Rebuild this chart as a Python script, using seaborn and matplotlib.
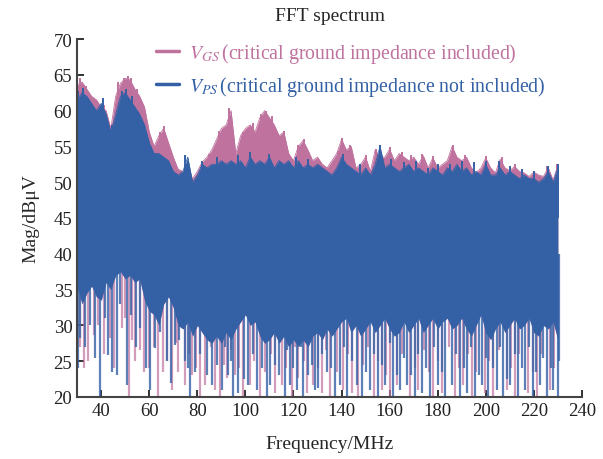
import numpy as np
import pandas as pd
import matplotlib
matplotlib.use("Agg")
import matplotlib.pyplot as plt
import seaborn as sns

# frequency grid (MHz) for the envelopes, 2 MHz spacing
freq = list(range(30, 232, 2))

# upper envelope of V_GS (critical ground impedance included), dBuV
vgs_top = [63.5, 64.0, 63.0, 62.0, 61.5, 60.5, 60.0, 57.5, 62.0, 63.8,
           64.5, 64.3, 63.0, 62.0, 60.5, 57.0, 55.0, 56.5, 57.5, 55.5,
           53.5, 51.8, 51.5, 52.0, 50.5, 51.5, 52.8, 53.5, 54.5, 56.0,
           57.5, 58.0, 60.0, 54.0, 56.5, 57.5, 58.0, 57.0, 59.0, 60.0,
           59.0, 58.0, 56.5, 57.0, 54.0, 53.0, 55.0, 55.8, 54.5, 53.0,
           53.5, 52.5, 52.0, 53.0, 54.0, 56.0, 54.5, 55.0, 52.0, 52.5,
           53.5, 51.5, 54.5, 53.5, 53.5, 54.6, 53.0, 54.0, 53.5, 53.0,
           53.5, 52.5, 53.7, 52.0, 53.4, 52.0, 52.5, 53.0, 55.0, 53.5,
           53.0, 53.5, 52.0, 51.3, 52.0, 53.4, 52.0, 51.3, 53.2, 52.0,
           51.6, 52.2, 51.5, 51.3, 50.8, 51.4, 51.0, 50.8, 52.0, 50.3,
           52.3]

# upper envelope of V_PS (critical ground impedance not included)
vps_top = [61.5, 62.5, 62.0, 61.0, 60.0, 61.0, 59.5, 57.0, 59.5, 62.0,
           62.5, 61.5, 60.5, 59.5, 58.0, 55.5, 54.0, 54.0, 53.5, 53.0,
           51.5, 51.0, 51.5, 53.5, 50.0, 51.0, 52.5, 52.0, 52.5, 52.5,
           53.0, 52.5, 53.0, 52.5, 53.0, 52.0, 53.5, 52.5, 53.0, 52.5,
           53.5, 52.0, 53.0, 52.5, 53.0, 52.0, 53.0, 52.0, 52.5, 52.0,
           52.5, 52.0, 51.5, 51.0, 52.0, 53.5, 52.5, 52.0, 51.5, 51.0,
           52.0, 51.0, 52.5, 55.0, 52.0, 52.5, 52.0, 51.5, 52.0, 52.5,
           51.5, 52.0, 51.5, 51.0, 52.0, 51.5, 51.0, 52.0, 51.5, 52.5,
           51.5, 52.0, 51.0, 51.5, 51.0, 52.5, 51.0, 51.0, 52.0, 51.0,
           51.5, 51.0, 50.5, 51.0, 50.5, 50.5, 50.0, 50.5, 51.5, 50.0,
           52.0]

# lower edge of the solid band
floor = [35.5, 33.0, 34.5, 35.5, 34.0, 33.5, 36.0, 35.0, 37.0, 37.5,
         36.5, 37.0, 36.0, 36.5, 33.5, 32.0, 31.5, 30.0, 33.0, 34.0,
         32.5, 30.0, 29.5, 30.5, 28.5, 30.0, 29.0, 28.0, 27.5, 28.5,
         27.5, 29.0, 28.0, 29.5, 30.5, 31.5, 30.0, 30.5, 28.5, 27.5,
         28.0, 29.0, 27.5, 28.5, 27.0, 28.0, 27.0, 28.0, 27.0, 28.5,
         29.0, 28.0, 29.5, 28.5, 29.5, 30.5, 31.0, 29.0, 30.0, 28.5,
         29.5, 30.5, 29.0, 30.0, 31.0, 29.5, 28.5, 29.0, 30.5, 29.0,
         30.0, 31.0, 29.0, 30.0, 31.0, 29.5, 30.5, 31.0, 29.5, 30.0,
         31.0, 29.5, 28.5, 30.0, 31.5, 29.0, 28.0, 29.5, 30.5, 29.0,
         30.0, 31.0, 29.5, 30.0, 31.0, 29.0, 28.5, 30.0, 29.5, 30.5,
         28.0]

# narrow upward peaks (frequency MHz, peak dBuV)
vgs_peak_f = [31.0, 33.5, 41.0, 47.0, 49.5, 51.0, 52.5, 55.0, 64.5, 66.0,
              76.0, 85.0, 89.0, 93.2, 99.0, 103.0, 106.5, 108.5, 111.0, 116.0,
              122.0, 124.5, 138.5, 140.0, 143.5, 150.0, 154.5, 160.0, 165.0, 169.0,
              173.5, 178.0, 186.3, 191.3, 200.3, 206.6, 212.0, 225.3, 229.5]
vgs_peak_v = [64.5, 63.5, 60.8, 64.0, 64.5, 64.8, 64.6, 63.0, 57.0, 57.8,
              52.5, 54.0, 57.2, 60.3, 57.0, 58.2, 59.5, 60.0, 59.2, 57.2,
              55.2, 56.0, 54.3, 56.2, 55.2, 53.8, 54.7, 54.9, 54.2, 53.8,
              54.0, 53.6, 55.2, 53.8, 53.7, 53.5, 52.5, 52.3, 52.5]

vps_peak_f = [30.5, 32.5, 40.8, 44.5, 48.5, 50.5, 53.0, 75.0, 82.0, 88.0,
              97.0, 102.0, 110.0, 121.0, 126.0, 140.5, 147.5, 156.0, 160.5, 166.0,
              171.0, 176.0, 180.0, 185.0, 190.0, 195.0, 200.0, 205.5, 210.0, 215.0,
              220.0, 226.0, 230.0]
vps_peak_v = [62.8, 63.2, 61.8, 58.0, 62.8, 63.0, 62.0, 53.8, 53.0, 53.5,
              53.8, 54.2, 54.0, 53.5, 53.3, 54.0, 52.5, 55.2, 53.2, 52.8,
              53.0, 52.0, 52.5, 52.5, 53.0, 52.8, 53.0, 53.0, 52.2, 51.8,
              51.5, 52.3, 52.5]

# downward spikes (frequency MHz, lowest value dBuV)
vps_spike_f = [31.3, 33.4, 39.6, 42.8, 44.4, 46.5, 50.7, 56.2, 60.4, 62.4,
               67.3, 70.7, 74.9, 77.0, 79.0, 83.9, 86.0, 90.1, 92.9, 95.0,
               97.0, 101.2, 104.7, 106.8, 108.8, 110.2, 112.3, 116.5, 118.5, 121.3,
               124.0, 126.0, 128.9, 130.4, 133.9, 137.3, 139.4, 142.2, 146.3, 148.4,
               151.9, 155.3, 158.1, 161.6, 164.3, 167.1, 170.6, 173.4, 176.8, 180.3,
               183.1, 185.8, 189.3, 192.1, 195.5, 198.3, 201.1, 204.5, 207.3, 210.1,
               213.5, 216.3, 219.8, 222.6, 225.3, 228.1, 229.9,
               30.5, 35.5, 37.5, 41.5, 48.0, 52.5, 54.5, 58.5, 64.5, 69.0,
               72.5, 76.0, 81.0, 85.0, 88.0, 91.5, 94.0, 99.5, 103.0, 114.0,
               117.5, 120.0, 123.0, 127.5, 132.0, 135.5, 141.0, 144.5, 150.0, 153.5,
               157.0, 160.0, 163.0, 166.0, 169.0, 172.0, 175.0, 178.5, 182.0, 187.5,
               191.0, 194.0, 197.0, 200.0, 203.0, 206.0, 209.0, 212.0, 215.0, 218.0,
               221.0, 224.0, 227.0, 230.5]
vps_spike_min = [28.2, 27.0, 20.0, 25.9, 23.5, 23.0, 21.6, 29.6, 21.0, 26.8,
                 25.0, 27.3, 25.0, 20.0, 23.5, 23.0, 21.6, 21.0, 23.0, 20.0,
                 20.5, 21.6, 21.0, 24.0, 20.0, 21.7, 24.5, 20.0, 21.6, 21.0,
                 20.0, 23.0, 21.0, 21.2, 23.5, 20.0, 21.7, 20.0, 21.6, 20.0,
                 21.0, 20.0, 21.7, 20.0, 21.0, 21.6, 20.0, 20.5, 20.0, 21.7,
                 20.0, 21.6, 20.0, 20.5, 20.0, 21.6, 20.0, 21.0, 20.0, 21.7,
                 20.0, 21.0, 20.0, 21.7, 20.0, 21.0, 20.0,
                 24.0, 30.0, 25.5, 31.0, 33.0, 31.5, 27.0, 24.0, 29.0, 22.0,
                 28.0, 24.0, 26.0, 29.0, 24.5, 27.0, 25.0, 22.5, 26.0, 23.0,
                 26.5, 24.0, 27.0, 24.5, 26.0, 24.0, 27.0, 25.0, 23.5, 26.0,
                 24.5, 27.5, 23.0, 25.5, 23.0, 26.0, 24.0, 27.0, 23.5, 26.0,
                 24.0, 27.0, 23.0, 25.5, 24.0, 27.0, 22.5, 26.0, 24.0, 27.0,
                 23.5, 25.5, 24.0, 25.0]

vgs_spike_f = [32.7, 36.8, 43.7, 48.6, 51.4, 54.1, 57.6, 63.8, 65.9, 69.4,
               72.1, 74.9, 77.7, 81.1, 83.2, 87.4, 89.4, 92.2, 95.7, 99.1,
               101.9, 106.0, 112.3, 115.1, 119.2, 122.0, 125.5, 128.2, 131.8, 135.2,
               140.8, 144.2, 147.0, 153.3, 156.7, 160.2, 163.0, 168.5, 172.0, 178.2,
               181.7, 187.2, 190.7, 194.1, 199.7, 203.2, 208.7, 212.2, 217.7, 221.2,
               226.7,
               31.0, 34.5, 38.5, 41.0, 45.5, 50.0, 53.0, 56.0, 60.0, 62.0,
               67.5, 71.0, 76.5, 79.5, 85.5, 91.0, 94.0, 97.5, 103.5, 108.0,
               110.5, 117.0, 120.5, 124.5, 130.0, 133.5, 138.0, 142.5, 149.0, 151.0,
               155.0, 158.5, 165.0, 170.5, 174.5, 176.5, 180.0, 184.5, 189.0, 192.5,
               196.0, 201.5, 205.5, 210.5, 214.0, 219.5, 223.0, 228.5]
vgs_spike_min = [24.0, 28.7, 28.2, 29.6, 20.0, 25.0, 23.5, 20.0, 23.5, 21.0,
                 23.5, 21.7, 23.0, 20.0, 21.6, 21.0, 20.0, 22.6, 23.0, 20.0,
                 21.7, 20.0, 20.5, 21.6, 20.0, 22.6, 20.5, 21.7, 20.5, 20.0,
                 21.0, 20.5, 20.0, 20.0, 21.0, 20.0, 21.7, 20.0, 21.0, 20.0,
                 20.5, 20.0, 21.7, 20.0, 20.5, 20.0, 21.0, 20.0, 20.5, 20.0,
                 21.0,
                 27.0, 25.0, 30.0, 26.0, 24.0, 31.0, 28.0, 26.5, 24.0, 27.0,
                 25.0, 27.5, 26.0, 24.0, 27.0, 24.5, 26.5, 24.0, 25.0, 23.5,
                 26.0, 24.0, 27.0, 25.0, 24.0, 26.5, 23.5, 26.0, 24.5, 27.0,
                 25.0, 23.0, 26.0, 24.0, 26.5, 23.5, 25.0, 27.0, 24.0, 26.0,
                 23.5, 25.0, 26.5, 24.0, 26.0, 23.5, 26.0, 24.0]

pink = "#c0729f"
blue = "#3461a6"

sns.set_theme(style="ticks")
plt.rcParams["font.family"] = ["Liberation Serif", "DejaVu Serif"]
plt.rcParams["mathtext.fontset"] = "stix"

env = pd.DataFrame({"freq": freq, "vgs": vgs_top, "vps": vps_top, "floor": floor})

fig = plt.figure(figsize=(6.03, 4.6), dpi=100)
ax = fig.add_axes([0.128, 0.135, 0.837, 0.778])

# V_GS behind
ax.fill_between(env["freq"], env["floor"], env["vgs"], color=pink, lw=0, zorder=1)
ax.vlines(vgs_spike_f, vgs_spike_min, [40] * len(vgs_spike_f), color=pink, lw=1.6, alpha=0.7, zorder=1)
ax.vlines(vgs_peak_f, [45] * len(vgs_peak_f), vgs_peak_v, color=pink, lw=1.4, zorder=1)
sns.lineplot(data=env, x="freq", y="vgs", ax=ax, color=pink, lw=0.6,
             label=r"$V_{GS}\,$(critical ground impedance included)", zorder=1)

# V_PS on top
ax.fill_between(env["freq"], env["floor"], env["vps"], color=blue, lw=0, zorder=2)
ax.vlines(vps_spike_f, vps_spike_min, [40] * len(vps_spike_f), color=blue, lw=1.6, alpha=0.8, zorder=2)
ax.vlines(vps_peak_f, [45] * len(vps_peak_f), vps_peak_v, color=blue, lw=1.4, zorder=2)
sns.lineplot(data=env, x="freq", y="vps", ax=ax, color=blue, lw=0.6,
             label=r"$V_{PS}\,$(critical ground impedance not included)", zorder=2)

ax.set_xlim(30, 240)
ax.set_ylim(20, 70)
ax.set_xticks(range(40, 241, 20))
ax.set_yticks(range(20, 71, 5))
ax.tick_params(direction="in", length=5, width=1.3, labelsize=13.5, colors="#222222")
sns.despine(ax=ax)
for s in ["left", "bottom"]:
    ax.spines[s].set_color("#444444")
    ax.spines[s].set_linewidth(1.5)

ax.set_title("FFT spectrum", fontsize=14, pad=14)
ax.set_xlabel("Frequency/MHz", fontsize=14, labelpad=12)
ax.set_ylabel("Mag/dBμV", fontsize=14, labelpad=10)

leg = ax.legend(loc="upper left", bbox_to_anchor=(0.12, 1.045), frameon=False, fontsize=14.3,
                handlelength=1.2, handletextpad=0.5, labelspacing=0.45, labelcolor="linecolor")
for h in leg.get_lines():
    h.set_linewidth(2.5)

fig.savefig("out.png", dpi=100)
